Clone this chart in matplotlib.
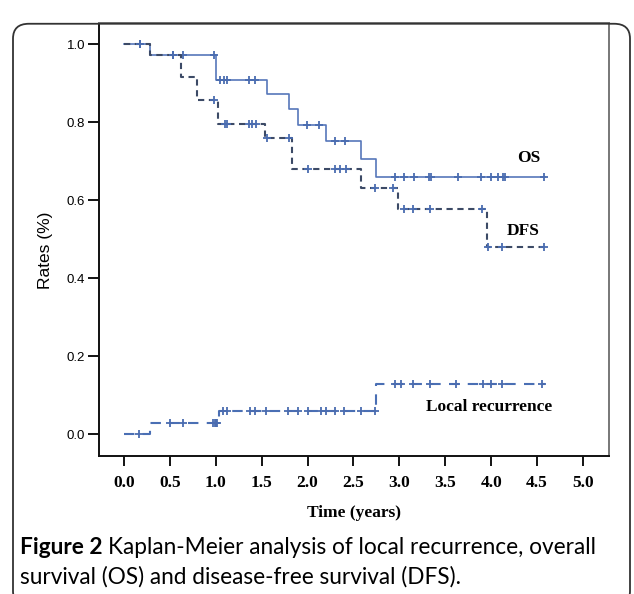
# Kaplan-Meier curves: OS, DFS and local recurrence

import numpy as np
import matplotlib
matplotlib.use('Agg')
import matplotlib.pyplot as plt
from matplotlib.patches import FancyBboxPatch

# Step curves: times of the steps and the level after each step
OS_TIMES = [0.0, 0.28, 1.00, 1.56, 1.80, 1.90, 2.20, 2.58, 2.75, 4.59]
OS_RATES = [1.0, 0.972, 0.908, 0.872, 0.833, 0.792, 0.751, 0.705, 0.659, 0.659]
OS_CENSORED = [0.18, 0.53, 0.64, 0.98, 1.05, 1.09, 1.12, 1.36, 1.43, 1.99, 2.13,
               2.30, 2.41, 2.95, 3.05, 3.16, 3.32, 3.34, 3.64, 3.89, 4.00, 4.07,
               4.13, 4.15, 4.58]

DFS_TIMES = [0.0, 0.28, 0.62, 0.80, 1.02, 1.54, 1.83, 2.58, 2.99, 3.95, 4.59]
DFS_RATES = [1.0, 0.972, 0.915, 0.856, 0.795, 0.759, 0.680, 0.631, 0.577, 0.479, 0.479]
DFS_CENSORED = [0.18, 0.53, 0.98, 1.10, 1.12, 1.36, 1.40, 1.44, 1.56, 1.80, 2.00,
                2.30, 2.35, 2.42, 2.74, 2.93, 3.05, 3.15, 3.33, 3.90, 3.97, 4.12,
                4.57]

LR_TIMES = [0.0, 0.28, 1.04, 2.75, 4.59]
LR_RATES = [0.0, 0.028, 0.059, 0.128, 0.128]
LR_CENSORED = [0.17, 0.50, 0.64, 0.97, 0.99, 1.00, 1.01, 1.08, 1.12, 1.37, 1.43,
               1.55, 1.79, 1.90, 2.00, 2.15, 2.20, 2.30, 2.40, 2.58, 2.74, 2.95,
               3.02, 3.15, 3.33, 3.62, 3.91, 4.00, 4.12, 4.55]

X_TICKS = [0.0, 0.5, 1.0, 1.5, 2.0, 2.5, 3.0, 3.5, 4.0, 4.5, 5.0]
Y_TICKS = [0.0, 0.2, 0.4, 0.6, 0.8, 1.0]

SERIF = 'Liberation Serif'
SANS = 'Liberation Sans'


def level_at(times, rates, t):
    idx = np.searchsorted(times, t, side='right') - 1
    return np.asarray(rates)[idx]


def draw_curve(ax, times, rates, censored, color, ls, lw):
    ax.step(times, rates, where='post', color=color, linestyle=ls, linewidth=lw)
    ax.plot(censored, level_at(times, rates, censored), linestyle='none',
            marker='+', markersize=6, markeredgewidth=1.3, color='#4a6cb0')


fig = plt.figure(figsize=(6.34, 5.94), dpi=100)
ax = fig.add_axes([0.156, 0.2323, 0.8046, 0.729])

draw_curve(ax, OS_TIMES, OS_RATES, OS_CENSORED, '#5677ba', '-', 1.2)
draw_curve(ax, DFS_TIMES, DFS_RATES, DFS_CENSORED, '#3c4a66', (0, (3, 2.2)), 1.5)
draw_curve(ax, LR_TIMES, LR_RATES, LR_CENSORED, '#4a6fb4', (0, (5, 4)), 1.5)

ax.set_xlim(-0.272, 5.283)
ax.set_ylim(-0.056, 1.054)
ax.set_xticks(X_TICKS)
ax.set_xticklabels([f'{v:.1f}' for v in X_TICKS], fontfamily=SERIF,
                   fontweight='bold', fontsize=12.5)
ax.set_yticks(Y_TICKS)
ax.set_yticklabels([f'{v:.1f}' for v in Y_TICKS], fontfamily=SANS, fontsize=9.5)
ax.tick_params(axis='x', direction='out', length=7.5, width=1.3, pad=6)
ax.tick_params(axis='y', direction='out', length=8, width=1.3, pad=2)

for side in ['left', 'bottom']:
    ax.spines[side].set_linewidth(1.4)
    ax.spines[side].set_color('#111111')
for side in ['top', 'right']:
    ax.spines[side].set_linewidth(1.4)
    ax.spines[side].set_color('#777777')

ax.set_xlabel('Time (years)', fontfamily=SERIF, fontweight='bold', fontsize=12.5,
              labelpad=10)
ax.set_ylabel('Rates (%)', fontfamily=SANS, fontsize=12.5)
ax.yaxis.set_label_coords(-0.09, 0.476)

ax.text(4.41, 0.708, 'OS', fontfamily=SERIF, fontweight='bold', fontsize=12.5,
        ha='center', va='center')
ax.text(4.35, 0.52, 'DFS', fontfamily=SERIF, fontweight='bold', fontsize=12.5,
        ha='center', va='center')
ax.text(3.98, 0.069, 'Local recurrence', fontfamily=SERIF, fontweight='bold',
        fontsize=12.5, ha='center', va='center')

# rounded frame around the whole figure
frame = FancyBboxPatch((13 / 634, -0.02), 617 / 634, 0.98, transform=fig.transFigure,
                       boxstyle='round,pad=0,rounding_size=0.025', fill=False,
                       edgecolor='#333333', linewidth=1.3, clip_on=False)
fig.patches.append(frame)

# caption
fig.canvas.draw()
renderer = fig.canvas.get_renderer()
bold = fig.text(20 / 634, 1 - 548 / 594, 'Figure 2', fontfamily='Lato',
                fontweight='bold', fontsize=16.3, va='center')
bb = bold.get_window_extent(renderer)
fig.text((bb.x1 + 5) / 634, 1 - 548 / 594,
         'Kaplan-Meier analysis of local recurrence, overall',
         fontfamily='Lato', fontsize=16.3, va='center')
fig.text(20 / 634, 1 - 577 / 594,
         'survival (OS) and disease-free survival (DFS).',
         fontfamily='Lato', fontsize=16.3, va='center')

fig.savefig('out.png', dpi=100)
